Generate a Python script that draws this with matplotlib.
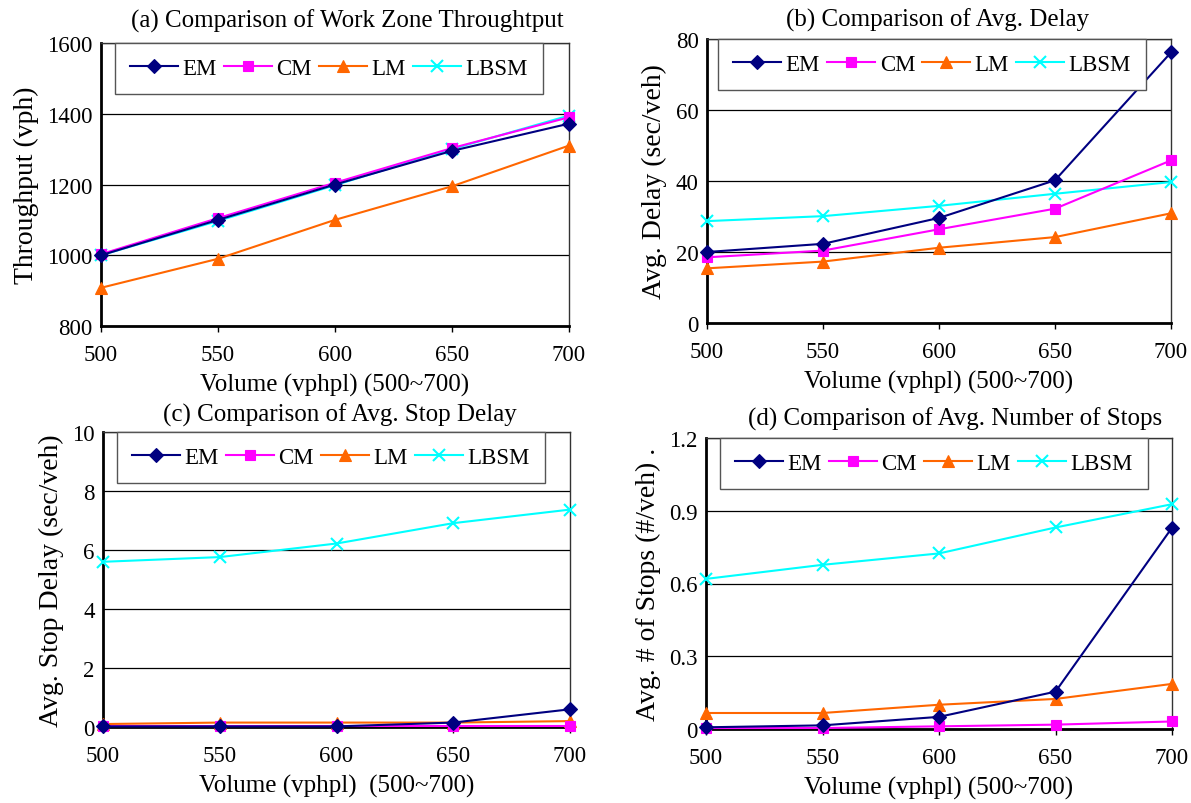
import matplotlib
matplotlib.use("Agg")
import matplotlib.pyplot as plt
from matplotlib.ticker import FixedLocator, FixedFormatter

plt.rcParams['font.family'] = ['Liberation Serif', 'DejaVu Serif']

volume = [500, 550, 600, 650, 700]
series_names = ["EM", "CM", "LM", "LBSM"]

# (a) throughput
thr_em = [1000, 1100, 1200, 1295, 1372]
thr_cm = [1003, 1105, 1205, 1303, 1390]
thr_lm = [908, 990, 1100, 1195, 1310]
thr_lbsm = [1000, 1097, 1198, 1300, 1395]

# (b) avg delay
dly_em = [20.0, 22.3, 29.6, 40.2, 76.2]
dly_cm = [18.5, 20.4, 26.4, 32.2, 45.8]
dly_lm = [15.4, 17.3, 21.2, 24.2, 30.9]
dly_lbsm = [28.7, 30.1, 33.0, 36.4, 39.7]

# (c) avg stop delay
sd_em = [0.02, 0.02, 0.02, 0.15, 0.60]
sd_cm = [0.02, 0.02, 0.02, 0.02, 0.02]
sd_lm = [0.10, 0.15, 0.15, 0.15, 0.20]
sd_lbsm = [5.60, 5.76, 6.22, 6.91, 7.37]

# (d) avg number of stops
ns_em = [0.007, 0.015, 0.050, 0.154, 0.830]
ns_cm = [0.004, 0.004, 0.011, 0.018, 0.031]
ns_lm = [0.066, 0.066, 0.100, 0.124, 0.186]
ns_lbsm = [0.619, 0.677, 0.724, 0.831, 0.927]

titles = ["(a) Comparison of Work Zone Throughtput",
          "(b) Comparison of Avg. Delay",
          "(c) Comparison of Avg. Stop Delay",
          "(d) Comparison of Avg. Number of Stops"]
ylabels = ["Throughput (vph)", "Avg. Delay (sec/veh)",
           "Avg. Stop Delay (sec/veh)", "Avg. # of Stops (#/veh) ."]
xlabels = ["Volume (vphpl) (500~700)", "Volume (vphpl) (500~700)",
           "Volume (vphpl)  (500~700)", "Volume (vphpl) (500~700)"]
yticks = [[800, 1000, 1200, 1400, 1600], [0, 20, 40, 60, 80],
          [0, 2, 4, 6, 8, 10], [0, 0.3, 0.6, 0.9, 1.2]]
ytick_labels = [["800", "1000", "1200", "1400", "1600"],
                ["0", "20", "40", "60", "80"],
                ["0", "2", "4", "6", "8", "10"],
                ["0", "0.3", "0.6", "0.9", "1.2"]]
data = [[thr_em, thr_cm, thr_lm, thr_lbsm],
        [dly_em, dly_cm, dly_lm, dly_lbsm],
        [sd_em, sd_cm, sd_lm, sd_lbsm],
        [ns_em, ns_cm, ns_lm, ns_lbsm]]

colors = ["#000080", "#FF00FF", "#FF6600", "#00FFFF"]
markers = ["D", "s", "^", "x"]
msizes = [7, 7, 9, 9]

W, H = 1191, 804
fig = plt.figure(figsize=(W / 100, H / 100), dpi=100)

# pixel boxes (left, top, right, bottom)
boxes = [(101, 44, 569, 327), (707, 40, 1171, 324),
         (103, 433, 570, 728), (706, 439, 1172, 730)]
title_x = [0.526, 0.496, 0.507, 0.534]
title_pad = [12, 10, 8, 10]
leg_x = [0.03, 0.024, 0.03, 0.03]

for i, (l, t, r, b) in enumerate(boxes):
    ax = fig.add_axes([l / W, 1 - b / H, (r - l) / W, (b - t) / H])
    for j in range(4):
        ax.plot(volume, data[i][j], color=colors[j], marker=markers[j],
                markersize=msizes[j], linewidth=1.5,
                markeredgewidth=1.5 if markers[j] == "x" else 0.8,
                label=series_names[j], clip_on=False, zorder=3 + (3 - j) * 0.1)
    ax.set_xlim(500, 700)
    ax.set_ylim(yticks[i][0], yticks[i][-1])
    ax.yaxis.set_major_locator(FixedLocator(yticks[i]))
    ax.yaxis.set_major_formatter(FixedFormatter(ytick_labels[i]))
    ax.set_xticks(volume)
    ax.set_xticklabels([str(v) for v in volume])
    ax.grid(axis="y", color="black", linewidth=0.9)
    ax.set_axisbelow(True)
    ax.tick_params(axis="both", labelsize=16.5, length=4, width=1, color="black",
                   pad=9)
    ax.tick_params(axis="y", length=0, pad=6)
    ax.tick_params(axis="x", direction="out")
    for side in ("left", "bottom"):
        ax.spines[side].set_linewidth(2.0)
        ax.spines[side].set_color("black")
    for side in ("top", "right"):
        ax.spines[side].set_linewidth(1.0)
        ax.spines[side].set_color("#333333")
    ax.set_title(titles[i], fontsize=18, pad=title_pad[i], loc="center",
                 x=title_x[i])
    ax.set_ylabel(ylabels[i], fontsize=20, labelpad=6)
    ax.set_xlabel(xlabels[i], fontsize=18, labelpad=6)
    leg = ax.legend(loc="upper left", bbox_to_anchor=(leg_x[i], 1.0), ncol=4,
                    fontsize=16.5, frameon=True, fancybox=False,
                    handlelength=2.1, handletextpad=0.2, columnspacing=0.3,
                    borderaxespad=0.0, borderpad=0.65)
    leg.get_frame().set_edgecolor("#555555")
    leg.get_frame().set_linewidth(1.0)
    leg.get_frame().set_alpha(1.0)

fig.savefig("out.png", dpi=100)
